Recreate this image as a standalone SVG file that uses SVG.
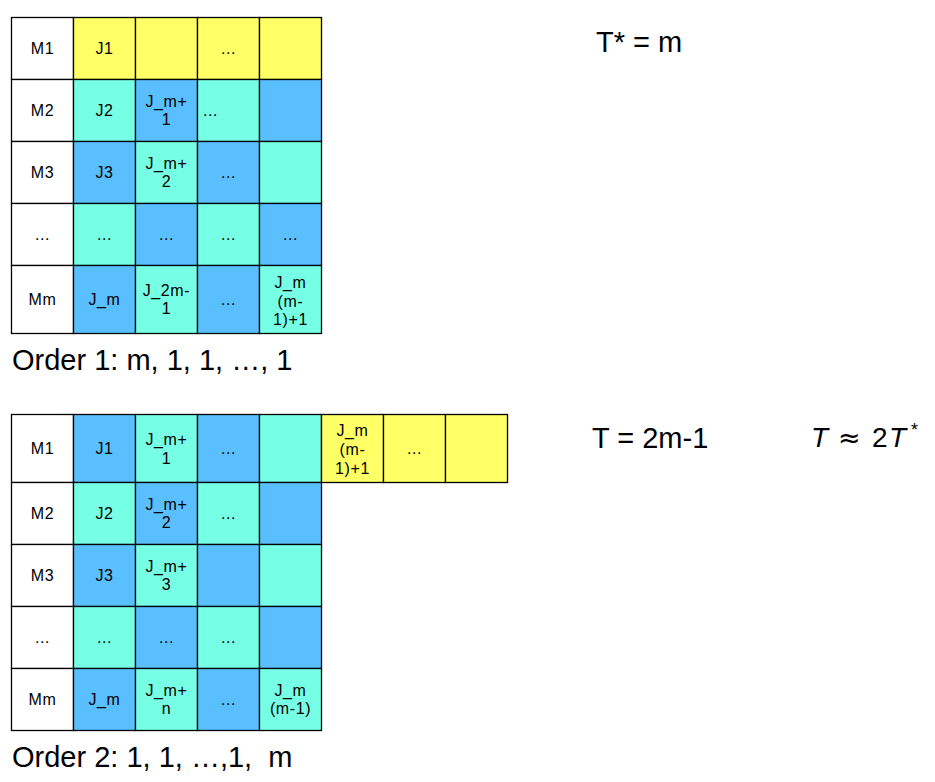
<svg xmlns="http://www.w3.org/2000/svg" width="935" height="782" viewBox="0 0 935 782">
<style>
  .c { stroke: #000; stroke-width: 1.3; }
  .w { fill: #ffffff; }
  .y { fill: #ffff66; }
  .a { fill: #76ffe4; }
  .b { fill: #5abfff; }
  .t { font-family: "Liberation Sans", Arial, sans-serif; font-size: 16px; fill: #000; text-anchor: middle; letter-spacing: 0.6px; }
  .tl { font-family: "Liberation Sans", Arial, sans-serif; font-size: 16px; fill: #000; letter-spacing: 0.6px; }
  .big { font-family: "Liberation Sans", Arial, sans-serif; font-size: 29px; fill: #000; white-space: pre; }
  .m { font-family: "Liberation Sans", Arial, sans-serif; font-size: 28px; fill: #000; }
</style>
<rect width="935" height="782" fill="#ffffff"/>

<!-- Top grid: Order 1 -->
<g id="order1">
  <g id="o1-r1">
    <g id="o1-r1c0"><rect class="c w" x="11.5" y="17.5" width="62" height="62"/><text class="t" x="42.5" y="54">M1</text></g>
    <g id="o1-r1c1"><rect class="c y" x="73.5" y="17.5" width="62" height="62"/><text class="t" x="104.5" y="54">J1</text></g>
    <g id="o1-r1c2"><rect class="c y" x="135.5" y="17.5" width="62" height="62"/></g>
    <g id="o1-r1c3"><rect class="c y" x="197.5" y="17.5" width="62" height="62"/><text class="t" x="228.5" y="54">...</text></g>
    <g id="o1-r1c4"><rect class="c y" x="259.5" y="17.5" width="62" height="62"/></g>
  </g>
  <g id="o1-r2">
    <g id="o1-r2c0"><rect class="c w" x="11.5" y="79.5" width="62" height="62"/><text class="t" x="42.5" y="116">M2</text></g>
    <g id="o1-r2c1"><rect class="c a" x="73.5" y="79.5" width="62" height="62"/><text class="t" x="104.5" y="116">J2</text></g>
    <g id="o1-r2c2"><rect class="c b" x="135.5" y="79.5" width="62" height="62"/><text class="t" x="166.5" y="106.5">J_m+</text><text class="t" x="166.5" y="125">1</text></g>
    <g id="o1-r2c3"><rect class="c a" x="197.5" y="79.5" width="62" height="62"/><text class="tl" x="203" y="116">...</text></g>
    <g id="o1-r2c4"><rect class="c b" x="259.5" y="79.5" width="62" height="62"/></g>
  </g>
  <g id="o1-r3">
    <g id="o1-r3c0"><rect class="c w" x="11.5" y="141.5" width="62" height="62"/><text class="t" x="42.5" y="178">M3</text></g>
    <g id="o1-r3c1"><rect class="c b" x="73.5" y="141.5" width="62" height="62"/><text class="t" x="104.5" y="178">J3</text></g>
    <g id="o1-r3c2"><rect class="c a" x="135.5" y="141.5" width="62" height="62"/><text class="t" x="166.5" y="168.5">J_m+</text><text class="t" x="166.5" y="187">2</text></g>
    <g id="o1-r3c3"><rect class="c b" x="197.5" y="141.5" width="62" height="62"/><text class="t" x="228.5" y="178">...</text></g>
    <g id="o1-r3c4"><rect class="c a" x="259.5" y="141.5" width="62" height="62"/></g>
  </g>
  <g id="o1-r4">
    <g id="o1-r4c0"><rect class="c w" x="11.5" y="203.5" width="62" height="62"/><text class="t" x="42.5" y="240">...</text></g>
    <g id="o1-r4c1"><rect class="c a" x="73.5" y="203.5" width="62" height="62"/><text class="t" x="104.5" y="240">...</text></g>
    <g id="o1-r4c2"><rect class="c b" x="135.5" y="203.5" width="62" height="62"/><text class="t" x="166.5" y="240">...</text></g>
    <g id="o1-r4c3"><rect class="c a" x="197.5" y="203.5" width="62" height="62"/><text class="t" x="228.5" y="240">...</text></g>
    <g id="o1-r4c4"><rect class="c b" x="259.5" y="203.5" width="62" height="62"/><text class="t" x="290.5" y="240">...</text></g>
  </g>
  <g id="o1-r5">
    <g id="o1-r5c0"><rect class="c w" x="11.5" y="265.5" width="62" height="68"/><text class="t" x="42.5" y="305">Mm</text></g>
    <g id="o1-r5c1"><rect class="c b" x="73.5" y="265.5" width="62" height="68"/><text class="t" x="104.5" y="305">J_m</text></g>
    <g id="o1-r5c2"><rect class="c a" x="135.5" y="265.5" width="62" height="68"/><text class="t" x="166.5" y="295.5">J_2m-</text><text class="t" x="166.5" y="314">1</text></g>
    <g id="o1-r5c3"><rect class="c b" x="197.5" y="265.5" width="62" height="68"/><text class="t" x="228.5" y="305">...</text></g>
    <g id="o1-r5c4"><rect class="c a" x="259.5" y="265.5" width="62" height="68"/><text class="t" x="290.5" y="288">J_m</text><text class="t" x="290.5" y="306.5">(m-</text><text class="t" x="290.5" y="325">1)+1</text></g>
  </g>
</g>

<!-- Bottom grid: Order 2 -->
<g id="order2">
  <g id="o2-r1">
    <g id="o2-r1c0"><rect class="c w" x="11.5" y="414.5" width="62" height="68"/><text class="t" x="42.5" y="454">M1</text></g>
    <g id="o2-r1c1"><rect class="c b" x="73.5" y="414.5" width="62" height="68"/><text class="t" x="104.5" y="454">J1</text></g>
    <g id="o2-r1c2"><rect class="c a" x="135.5" y="414.5" width="62" height="68"/><text class="t" x="166.5" y="444.5">J_m+</text><text class="t" x="166.5" y="463.5">1</text></g>
    <g id="o2-r1c3"><rect class="c b" x="197.5" y="414.5" width="62" height="68"/><text class="t" x="228.5" y="454">...</text></g>
    <g id="o2-r1c4"><rect class="c a" x="259.5" y="414.5" width="62" height="68"/></g>
    <g id="o2-r1c5"><rect class="c y" x="321.5" y="414.5" width="62" height="68"/><text class="t" x="352.5" y="435.5">J_m</text><text class="t" x="352.5" y="454.5">(m-</text><text class="t" x="352.5" y="473.5">1)+1</text></g>
    <g id="o2-r1c6"><rect class="c y" x="383.5" y="414.5" width="62" height="68"/><text class="t" x="414.5" y="454">...</text></g>
    <g id="o2-r1c7"><rect class="c y" x="445.5" y="414.5" width="62" height="68"/></g>
  </g>
  <g id="o2-r2">
    <g id="o2-r2c0"><rect class="c w" x="11.5" y="482.5" width="62" height="62"/><text class="t" x="42.5" y="519">M2</text></g>
    <g id="o2-r2c1"><rect class="c a" x="73.5" y="482.5" width="62" height="62"/><text class="t" x="104.5" y="519">J2</text></g>
    <g id="o2-r2c2"><rect class="c b" x="135.5" y="482.5" width="62" height="62"/><text class="t" x="166.5" y="509.5">J_m+</text><text class="t" x="166.5" y="528">2</text></g>
    <g id="o2-r2c3"><rect class="c a" x="197.5" y="482.5" width="62" height="62"/><text class="t" x="228.5" y="519">...</text></g>
    <g id="o2-r2c4"><rect class="c b" x="259.5" y="482.5" width="62" height="62"/></g>
  </g>
  <g id="o2-r3">
    <g id="o2-r3c0"><rect class="c w" x="11.5" y="544.5" width="62" height="62"/><text class="t" x="42.5" y="581">M3</text></g>
    <g id="o2-r3c1"><rect class="c b" x="73.5" y="544.5" width="62" height="62"/><text class="t" x="104.5" y="581">J3</text></g>
    <g id="o2-r3c2"><rect class="c a" x="135.5" y="544.5" width="62" height="62"/><text class="t" x="166.5" y="571.5">J_m+</text><text class="t" x="166.5" y="590">3</text></g>
    <g id="o2-r3c3"><rect class="c b" x="197.5" y="544.5" width="62" height="62"/></g>
    <g id="o2-r3c4"><rect class="c a" x="259.5" y="544.5" width="62" height="62"/></g>
  </g>
  <g id="o2-r4">
    <g id="o2-r4c0"><rect class="c w" x="11.5" y="606.5" width="62" height="62"/><text class="t" x="42.5" y="643">...</text></g>
    <g id="o2-r4c1"><rect class="c a" x="73.5" y="606.5" width="62" height="62"/><text class="t" x="104.5" y="643">...</text></g>
    <g id="o2-r4c2"><rect class="c b" x="135.5" y="606.5" width="62" height="62"/><text class="t" x="166.5" y="643">...</text></g>
    <g id="o2-r4c3"><rect class="c a" x="197.5" y="606.5" width="62" height="62"/><text class="t" x="228.5" y="643">...</text></g>
    <g id="o2-r4c4"><rect class="c b" x="259.5" y="606.5" width="62" height="62"/></g>
  </g>
  <g id="o2-r5">
    <g id="o2-r5c0"><rect class="c w" x="11.5" y="668.5" width="62" height="62"/><text class="t" x="42.5" y="705">Mm</text></g>
    <g id="o2-r5c1"><rect class="c b" x="73.5" y="668.5" width="62" height="62"/><text class="t" x="104.5" y="705">J_m</text></g>
    <g id="o2-r5c2"><rect class="c a" x="135.5" y="668.5" width="62" height="62"/><text class="t" x="166.5" y="695.5">J_m+</text><text class="t" x="166.5" y="714">n</text></g>
    <g id="o2-r5c3"><rect class="c b" x="197.5" y="668.5" width="62" height="62"/><text class="t" x="228.5" y="705">...</text></g>
    <g id="o2-r5c4"><rect class="c a" x="259.5" y="668.5" width="62" height="62"/><text class="t" x="290.5" y="695.5">J_m</text><text class="t" x="290.5" y="714">(m-1)</text></g>
  </g>
</g>

<g id="connectors"/>

<g id="labels">
  <text id="order1-label" class="big" x="12" y="370">Order 1: m, 1, 1, …, 1</text>
  <text id="order2-label" class="big" x="12" y="767">Order 2: 1, 1, …,1,  m</text>
  <text id="tstar" class="big" x="596" y="52">T* = m</text>
  <text id="t2m" class="big" x="592" y="448">T = 2m-1</text>
  <g id="approx">
    <text class="m" x="811" y="447" font-style="italic">T</text>
    <text x="838" y="447" font-family="'DejaVu Sans', sans-serif" font-size="27" fill="#000">≈</text>
    <text class="m" x="872" y="447">2</text>
    <text class="m" x="889" y="447" font-style="italic">T</text>
    <text x="911" y="436" font-family="'Liberation Sans', Arial, sans-serif" font-size="18" fill="#000">*</text>
  </g>
</g>
</svg>
